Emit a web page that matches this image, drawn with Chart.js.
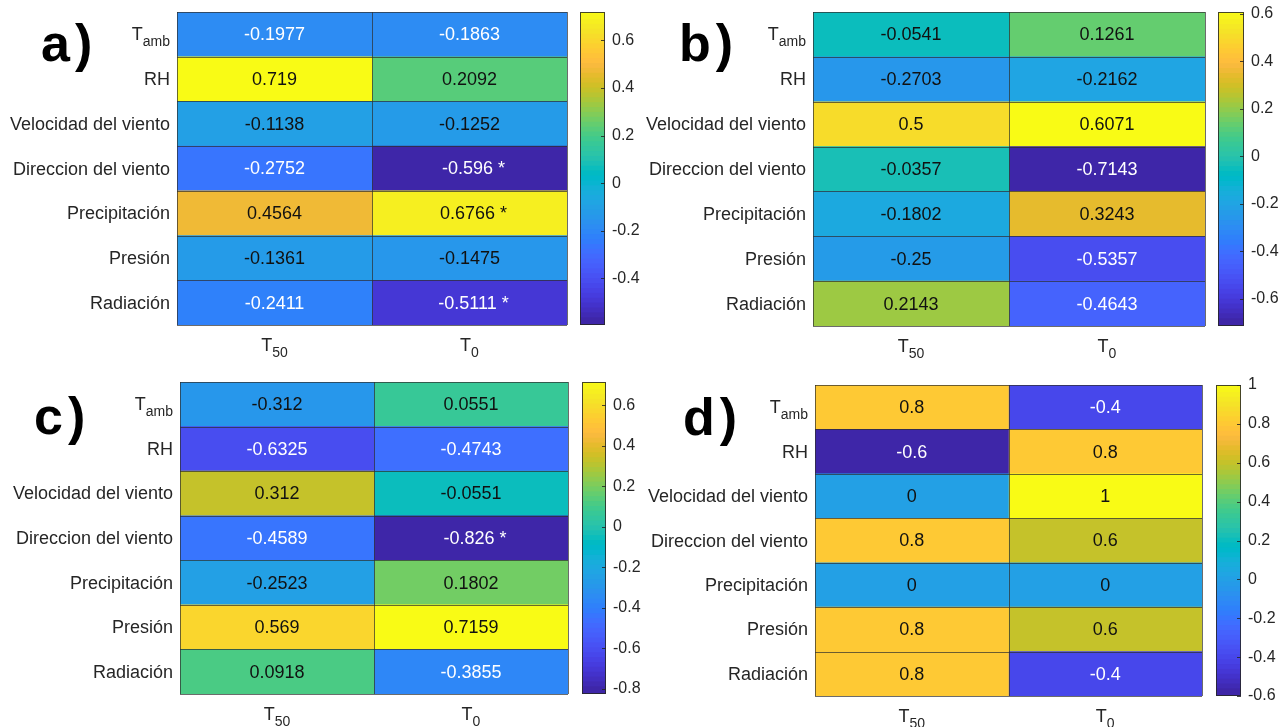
<!DOCTYPE html>
<html>
<head>
<meta charset="utf-8">
<script src="https://cdn.jsdelivr.net/npm/chart.js@4.4.1/dist/chart.umd.min.js"></script>
<style>
  html, body { margin: 0; padding: 0; background: #fff; }
  body { width: 1281px; height: 727px; position: relative; overflow: hidden; font-family: "Liberation Sans", Arial, sans-serif; }
  canvas { position: absolute; }
  .tag { position: absolute; font-weight: bold; font-size: 52px; line-height: 1; color: #000; letter-spacing: 5px; }
</style>
</head>
<body>
<div class="tag" style="left:41px;top:17px;">a)</div>
<div class="tag" style="left:679px;top:17px;">b)</div>
<div class="tag" style="left:34px;top:390px;">c)</div>
<div class="tag" style="left:683px;top:391px;">d)</div>

<script>
// filas y columnas (comunes a los cuatro paneles)
var rowLabels = ['T_{amb}', 'RH', 'Velocidad del viento', 'Direccion del viento', 'Precipitación', 'Presión', 'Radiación'];
var colLabels = ['T_{50}', 'T_{0}'];

// panel a)
var aT50 = [-0.1977, 0.719, -0.1138, -0.2752, 0.4564, -0.1361, -0.2411];
var aT0 = [-0.1863, 0.2092, -0.1252, -0.596, 0.6766, -0.1475, -0.5111];
var aStar = ['', '', '', '*', '*', '', '*'];
var aTicks = [-0.4, -0.2, 0, 0.2, 0.4, 0.6];

// panel b)
var bT50 = [-0.0541, -0.2703, 0.5, -0.0357, -0.1802, -0.25, 0.2143];
var bT0 = [0.1261, -0.2162, 0.6071, -0.7143, 0.3243, -0.5357, -0.4643];
var bStar = ['', '', '', '', '', '', ''];
var bTicks = [-0.6, -0.4, -0.2, 0, 0.2, 0.4, 0.6];

// panel c)
var cT50 = [-0.312, -0.6325, 0.312, -0.4589, -0.2523, 0.569, 0.0918];
var cT0 = [0.0551, -0.4743, -0.0551, -0.826, 0.1802, 0.7159, -0.3855];
var cStar = ['', '', '', '*', '', '', ''];
var cTicks = [-0.8, -0.6, -0.4, -0.2, 0, 0.2, 0.4, 0.6];

// panel d)
var dT50 = [0.8, -0.6, 0, 0.8, 0, 0.8, 0.8];
var dT0 = [-0.4, 0.8, 1, 0.6, 0, 0.6, -0.4];
var dStar = ['', '', '', '', '', '', ''];
var dTicks = [-0.6, -0.4, -0.2, 0, 0.2, 0.4, 0.6, 0.8, 1];

// mapa de colores parula (64)
var parula = [
  [0.2422,0.1504,0.6603],[0.2504,0.1650,0.7076],[0.2578,0.1818,0.7511],[0.2647,0.1978,0.7952],
  [0.2706,0.2147,0.8364],[0.2751,0.2342,0.8710],[0.2783,0.2559,0.8991],[0.2803,0.2782,0.9221],
  [0.2813,0.3006,0.9414],[0.2810,0.3228,0.9579],[0.2795,0.3447,0.9717],[0.2760,0.3667,0.9829],
  [0.2699,0.3892,0.9906],[0.2602,0.4123,0.9952],[0.2440,0.4358,0.9988],[0.2206,0.4603,0.9973],
  [0.1963,0.4847,0.9892],[0.1834,0.5074,0.9798],[0.1786,0.5289,0.9682],[0.1764,0.5499,0.9520],
  [0.1687,0.5703,0.9359],[0.1540,0.5902,0.9218],[0.1460,0.6091,0.9079],[0.1380,0.6276,0.8973],
  [0.1248,0.6459,0.8883],[0.1113,0.6635,0.8763],[0.0952,0.6798,0.8598],[0.0689,0.6948,0.8394],
  [0.0297,0.7082,0.8163],[0.0036,0.7203,0.7917],[0.0067,0.7312,0.7660],[0.0433,0.7411,0.7394],
  [0.0964,0.7500,0.7120],[0.1408,0.7584,0.6842],[0.1717,0.7670,0.6554],[0.1938,0.7758,0.6251],
  [0.2161,0.7843,0.5923],[0.2470,0.7918,0.5567],[0.2906,0.7973,0.5188],[0.3406,0.8008,0.4789],
  [0.3909,0.8029,0.4354],[0.4456,0.8024,0.3909],[0.5044,0.7993,0.3480],[0.5616,0.7942,0.3045],
  [0.6174,0.7876,0.2612],[0.6720,0.7793,0.2227],[0.7242,0.7698,0.1910],[0.7738,0.7598,0.1646],
  [0.8203,0.7498,0.1535],[0.8634,0.7406,0.1596],[0.9035,0.7330,0.1774],[0.9393,0.7288,0.2100],
  [0.9728,0.7298,0.2394],[0.9956,0.7434,0.2371],[0.9970,0.7659,0.2199],[0.9952,0.7893,0.2028],
  [0.9892,0.8136,0.1885],[0.9786,0.8386,0.1766],[0.9676,0.8639,0.1643],[0.9610,0.8890,0.1537],
  [0.9597,0.9135,0.1423],[0.9628,0.9373,0.1265],[0.9691,0.9606,0.1064],[0.9769,0.9839,0.0805]
];

var FONT = '"Liberation Sans", Arial, sans-serif';
var LABEL_COLOR = '#262626';

function rgbStr(c) {
  return 'rgb(' + Math.round(c[0] * 255) + ',' + Math.round(c[1] * 255) + ',' + Math.round(c[2] * 255) + ')';
}

function colorIndex(v, lo, hi) {
  var t = (v - lo) / (hi - lo);
  return Math.max(0, Math.min(63, Math.floor(t * 64)));
}

function textColorFor(c) {
  var lum = 0.299 * c[0] + 0.587 * c[1] + 0.114 * c[2];
  return lum < 0.495 ? '#ffffff' : '#111111';
}

function makeCanvas(left, top, w, h) {
  var cv = document.createElement('canvas');
  cv.width = w; cv.height = h;
  cv.style.left = left + 'px'; cv.style.top = top + 'px';
  cv.style.width = w + 'px'; cv.style.height = h + 'px';
  document.body.appendChild(cv);
  return cv;
}

// texto con subindice tipo 'T_{amb}'
function drawRich(ctx, text, x, y, align, size) {
  var m = /^(.*)_\{(.*)\}$/.exec(text);
  var main = m ? m[1] : text, sub = m ? m[2] : '';
  var subSize = Math.round(size * 0.78);
  ctx.font = size + 'px ' + FONT;
  var wMain = ctx.measureText(main).width;
  ctx.font = subSize + 'px ' + FONT;
  var wSub = sub ? ctx.measureText(sub).width : 0;
  var total = wMain + wSub;
  var x0 = align === 'right' ? x - total : (align === 'center' ? x - total / 2 : x);
  ctx.textAlign = 'left';
  ctx.textBaseline = 'alphabetic';
  ctx.font = size + 'px ' + FONT;
  ctx.fillText(main, x0, y);
  if (sub) {
    ctx.font = subSize + 'px ' + FONT;
    ctx.fillText(sub, x0 + wMain, y + 6);
  }
}

var heatmapPlugin = {
  id: 'heatmapText',
  afterDatasetsDraw: function(chart) {
    var ctx = chart.ctx, area = chart.chartArea;
    var xs = chart.scales.x, ys = chart.scales.y;
    ctx.save();

    // lineas de la rejilla
    ctx.strokeStyle = 'rgba(45,45,45,0.7)';
    ctx.lineWidth = 1;
    ctx.beginPath();
    [0, 1, 2].forEach(function(v) {
      var px = Math.round(xs.getPixelForValue(v)) + 0.5;
      ctx.moveTo(px, area.top); ctx.lineTo(px, area.bottom);
    });
    for (var i = 0; i <= rowLabels.length; i++) {
      var py = Math.round(ys.getPixelForValue(i - 0.5)) + 0.5;
      ctx.moveTo(area.left, py); ctx.lineTo(area.right, py);
    }
    ctx.stroke();

    // valores de las celdas
    chart.data.datasets.forEach(function(ds, di) {
      var meta = chart.getDatasetMeta(di);
      meta.data.forEach(function(el, i) {
        var p = el.getCenterPoint();
        var txt = String(ds.values[i]) + (ds.stars[i] ? ' ' + ds.stars[i] : '');
        ctx.fillStyle = ds.textColors[i];
        ctx.font = '18px ' + FONT;
        ctx.textAlign = 'center';
        ctx.textBaseline = 'middle';
        ctx.fillText(txt, p.x + (ds.stars[i] ? 4 : 0), p.y + 1);
      });
    });

    // etiquetas de filas
    ctx.fillStyle = LABEL_COLOR;
    rowLabels.forEach(function(lab, i) {
      var py = ys.getPixelForValue(i);
      drawRich(ctx, lab, area.left - 7, py + 6, 'right', 18);
    });

    // etiquetas de columnas
    colLabels.forEach(function(lab, j) {
      var px = xs.getPixelForValue(j + 0.5);
      drawRich(ctx, lab, px, area.bottom + 26, 'center', 18);
    });
    ctx.restore();
  }
};

function renderHeatmap(box, t50, t0, stars) {
  var cv = makeCanvas(box.left, box.top, box.r - box.left + 2, box.h);
  var all = t50.concat(t0);
  var lo = Math.min.apply(null, all), hi = Math.max.apply(null, all);
  function cols(arr) { return arr.map(function(v) { return parula[colorIndex(v, lo, hi)]; }); }
  var c50 = cols(t50), c0 = cols(t0);

  new Chart(cv, {
    type: 'bar',
    data: {
      labels: rowLabels,
      datasets: [{
        label: colLabels[0],
        data: t50.map(function() { return [0, 1]; }),
        values: t50,
        stars: t50.map(function() { return ''; }),
        textColors: c50.map(textColorFor),
        backgroundColor: c50.map(rgbStr),
        borderWidth: 0,
        grouped: false,
        barPercentage: 1,
        categoryPercentage: 1,
      }, {
        label: colLabels[1],
        data: t0.map(function() { return [1, 2]; }),
        values: t0,
        stars: stars,
        textColors: c0.map(textColorFor),
        backgroundColor: c0.map(rgbStr),
        borderWidth: 0,
        grouped: false,
        barPercentage: 1,
        categoryPercentage: 1,
      }],
    },
    options: {
      indexAxis: 'y',
      responsive: false,
      animation: false,
      devicePixelRatio: 1,
      layout: { padding: { top: box.t - box.top, right: 2, left: 0, bottom: 0 } },
      plugins: { legend: { display: false }, tooltip: { enabled: false } },
      scales: {
        x: {
          type: 'linear', min: 0, max: 2,
          ticks: { display: false }, grid: { display: false }, border: { display: false },
          afterFit: function(s) { s.height = box.top + box.h - box.b; },
        },
        y: {
          type: 'category',
          ticks: { display: false }, grid: { display: false }, border: { display: false },
          afterFit: function(s) { s.width = box.l - box.left; },
        },
      },
    },
    plugins: [heatmapPlugin],
  });
  return { lo: lo, hi: hi };
}

var colorbarPlugin = {
  id: 'colorbarFrame',
  afterDatasetsDraw: function(chart) {
    var ctx = chart.ctx, a = chart.chartArea, ys = chart.scales.y;
    ctx.save();
    ctx.strokeStyle = 'rgba(38,38,38,0.85)';
    ctx.lineWidth = 1;
    ctx.beginPath();
    ys.ticks.forEach(function(t) {
      var py = Math.round(ys.getPixelForValue(t.value)) + 0.5;
      ctx.moveTo(a.right - 4, py); ctx.lineTo(a.right, py);
    });
    ctx.stroke();
    ctx.strokeRect(Math.round(a.left) + 0.5, Math.round(a.top) + 0.5, Math.round(a.right - a.left) - 1, Math.round(a.bottom - a.top) - 1);
    ctx.restore();
  }
};

function renderColorbar(box, range, ticks) {
  var pad = 30;
  var w = box.cbR - box.cbL + 44;
  var cv = makeCanvas(box.cbL, box.t - pad, w, box.b - box.t + 2 * pad);
  var lo = range.lo, hi = range.hi, step = (hi - lo) / 64;
  var sets = parula.map(function(c, k) {
    var a = lo + step * k;
    var b = Math.min(hi, lo + step * (k + 1.5));
    return {
      data: [[a, b]],
      backgroundColor: rgbStr(c),
      borderWidth: 0,
      grouped: false,
      barPercentage: 1,
      categoryPercentage: 1,
    };
  });

  new Chart(cv, {
    type: 'bar',
    data: { labels: [''], datasets: sets },
    options: {
      responsive: false,
      animation: false,
      devicePixelRatio: 1,
      layout: { padding: { top: pad, bottom: pad, left: 0, right: 0 } },
      plugins: { legend: { display: false }, tooltip: { enabled: false } },
      scales: {
        x: { display: false },
        y: {
          type: 'linear', position: 'right', min: lo, max: hi,
          afterBuildTicks: function(s) { s.ticks = ticks.map(function(v) { return { value: v }; }); },
          ticks: {
            autoSkip: false, padding: 7, color: LABEL_COLOR,
            font: { family: FONT, size: 16 },
            callback: function(v) { return String(v); },
          },
          grid: { display: false, drawTicks: false }, border: { display: false },
          afterFit: function(s) { s.width = w - (box.cbR - box.cbL); },
        },
      },
    },
    plugins: [colorbarPlugin],
  });
}

var boxA = { left: 0, top: 0, h: 365, l: 177, t: 12, r: 567, b: 325, cbL: 580, cbR: 605 };
var boxB = { left: 640, top: 0, h: 365, l: 813, t: 12, r: 1205, b: 326, cbL: 1218, cbR: 1244 };
var boxC = { left: 0, top: 365, h: 362, l: 180, t: 382, r: 568, b: 694, cbL: 582, cbR: 606 };
var boxD = { left: 640, top: 365, h: 362, l: 815, t: 385, r: 1202, b: 696, cbL: 1216, cbR: 1241 };

renderColorbar(boxA, renderHeatmap(boxA, aT50, aT0, aStar), aTicks);
renderColorbar(boxB, renderHeatmap(boxB, bT50, bT0, bStar), bTicks);
renderColorbar(boxC, renderHeatmap(boxC, cT50, cT0, cStar), cTicks);
renderColorbar(boxD, renderHeatmap(boxD, dT50, dT0, dStar), dTicks);
</script>
</body>
</html>
